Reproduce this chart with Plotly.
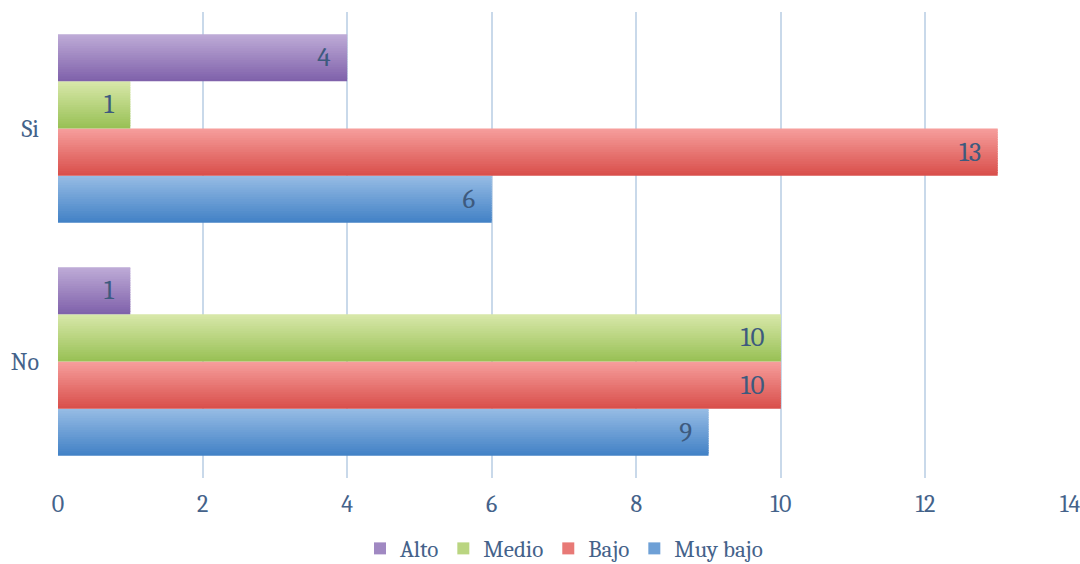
import plotly.graph_objects as go

categories = ["No", "Si"]
series_names = ["Muy bajo", "Bajo", "Medio", "Alto"]
muy_bajo = [9, 6]
bajo = [10, 13]
medio = [10, 1]
alto = [1, 4]
x_ticks = [0, 2, 4, 6, 8, 10, 12, 14]

values = [muy_bajo, bajo, medio, alto]
# (top colour, bottom colour) for the vertical gradient of each series
grad = [
    ((0x95, 0xbb, 0xe4), (0x43, 0x82, 0xc6)),
    ((0xf6, 0x9d, 0x9b), (0xd9, 0x50, 0x4c)),
    ((0xd7, 0xe7, 0xa8), (0x99, 0xc1, 0x56)),
    ((0xbd, 0xaa, 0xd6), (0x80, 0x62, 0xab)),
]
legend_rank = [4, 3, 2, 1]

FONT = "Cambria, Caladea, 'DejaVu Serif', serif"
TXT = "#3d5a7e"
AX = "#44628a"

group = 0.81
w = group / len(values)
n = 20
s = w / n

fig = go.Figure()
for k, (name, vals) in enumerate(zip(series_names, values)):
    top, bot = grad[k]
    base = -group / 2 + k * w
    for j in range(n):
        t = j / (n - 1)
        c = tuple(round(bot[i] + (top[i] - bot[i]) * t) for i in range(3))
        col = "rgb(%d,%d,%d)" % c
        fig.add_trace(go.Bar(
            x=vals, y=categories, orientation="h",
            offset=base + j * s, width=(s * 1.6 if j < n - 1 else s),
            marker=dict(color=col, line=dict(width=0)),
            name=name, legendgroup=name,
            showlegend=(j == n // 2), legendrank=legend_rank[k],
            hoverinfo="skip",
        ))
    fig.add_trace(go.Bar(
        x=vals, y=categories, orientation="h",
        offset=base, width=w,
        marker=dict(color="rgba(0,0,0,0)", line=dict(width=0)),
        text=[f"{v}\u2002" for v in vals],
        textposition="inside", insidetextanchor="end", textangle=0,
        textfont=dict(family=FONT, size=27, color=TXT),
        constraintext="none",
        showlegend=False, legendgroup=name, hoverinfo="skip",
    ))

fig.update_layout(
    width=1080, height=564,
    margin=dict(l=58, r=10, t=12, b=86, autoexpand=False),
    barmode="overlay",
    plot_bgcolor="white", paper_bgcolor="white",
    font=dict(family=FONT, size=24, color=TXT),
    xaxis=dict(
        range=[0, 14], tickvals=x_ticks, showgrid=True,
        gridcolor="#c9d9ea", gridwidth=1.5, zeroline=False,
        showline=False, ticks="", ticklabelstandoff=9, automargin=False,
        ticklabeloverflow="allow",
        tickfont=dict(family=FONT, size=24, color=AX),
        fixedrange=True,
    ),
    yaxis=dict(
        type="category", categoryorder="array", categoryarray=categories,
        range=[-0.5, 1.5], showgrid=False, zeroline=False, showline=False,
        ticks="", ticklabelstandoff=18, automargin=False,
        tickfont=dict(family=FONT, size=24, color=AX),
        fixedrange=True,
    ),
    legend=dict(
        orientation="h", x=0.5, xanchor="center", y=-0.105, yanchor="top",
        font=dict(family=FONT, size=23, color=AX),
        traceorder="normal", itemwidth=30,
    ),
    showlegend=True,
)

fig.write_html(
    "out.html",
    config={"displayModeBar": False},
    post_script="document.body.style.margin='0';document.body.style.overflow='hidden';",
)
